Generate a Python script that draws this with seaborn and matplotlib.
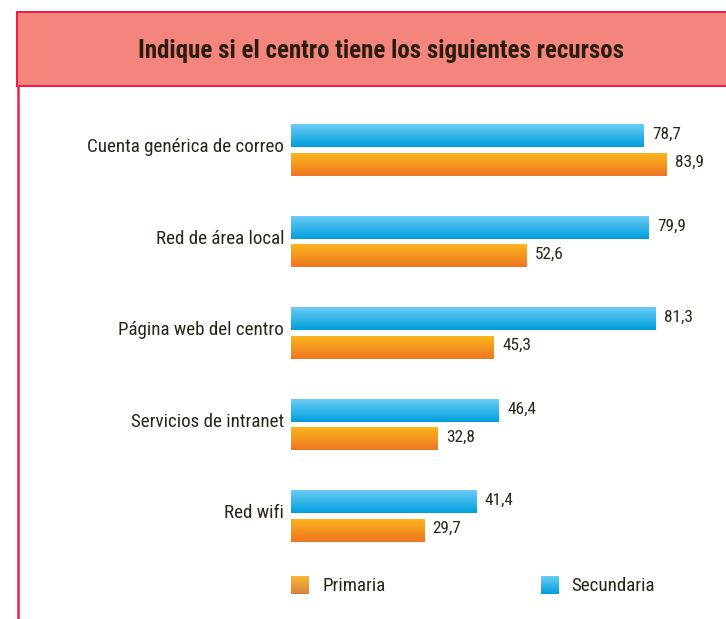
import numpy as np
import pandas as pd
import matplotlib
matplotlib.use("Agg")
import matplotlib.pyplot as plt
import matplotlib.transforms as mtransforms
from matplotlib.patches import Rectangle
from matplotlib import font_manager as fm
import seaborn as sns

categories = ["Cuenta genérica de correo", "Red de área local", "Página web del centro",
              "Servicios de intranet", "Red wifi"]
secundaria = [78.7, 79.9, 81.3, 46.4, 41.4]
primaria = [83.9, 52.6, 45.3, 32.8, 29.7]
series_names = ["Secundaria", "Primaria"]
title = "Indique si el centro tiene los siguientes recursos"

sns.set_theme(style="white")

# pick the narrowest available sans family
names = {f.name for f in fm.fontManager.ttflist}
stretch = "normal"
main = None
for cand in ["Liberation Sans Narrow", "Roboto Condensed", "Open Sans Condensed",
             "Noto Sans Condensed", "DejaVu Sans Condensed"]:
    if cand in names:
        main = cand
        break
if main is None:
    cond = [f for f in fm.fontManager.ttflist
            if f.name == "DejaVu Sans" and str(f.stretch) in ("condensed", "semi-condensed")]
    if cond:
        main, stretch = "DejaVu Sans", "condensed"
    elif "Roboto" in names:
        main = "Roboto"
    else:
        main = "DejaVu Sans"
FONT = [main, "DejaVu Sans"]
plt.rcParams["font.family"] = FONT
plt.rcParams["font.stretch"] = stretch
TXT = "#2b2519"

df = pd.DataFrame({
    "cat": categories * 2,
    "serie": ["Secundaria"] * len(categories) + ["Primaria"] * len(categories),
    "val": secundaria + primaria,
})

W, H = 726, 619
fig = plt.figure(figsize=(W / 100, H / 100), dpi=100)
renderer = fig.canvas.get_renderer()

def fx(px):
    return px / W

def fy(py):
    return 1 - py / H

def fit_size(text, target_px, weight="normal", base=20):
    t = fig.text(0, 0, text, fontsize=base, fontweight=weight, family=FONT, fontstretch=stretch)
    w = t.get_window_extent(renderer=renderer).width
    t.remove()
    return base * target_px / w

title_fs = min(fit_size(title, 482, "bold"), 19)
label_fs = min(fit_size("Cuenta genérica de correo", 196), 16)
value_fs = min(fit_size("78,7", 29), 13)

# title box and left border
fig.patches.append(Rectangle((fx(17), fy(86)), fx(720), (86 - 12) / H, transform=fig.transFigure,
                             facecolor="#F3857D", edgecolor="#EE1F4D", linewidth=1.5, zorder=0))
fig.add_artist(plt.Line2D([fx(17.5), fx(17.5)], [fy(86), 0], transform=fig.transFigure,
                          color="#EE1F4D", linewidth=1.8))
fig.text(fx(381), fy(51), title, ha="center", va="center", fontsize=title_fs, fontweight="bold",
         color="#2a1d10", family=FONT, fontstretch=stretch)

ax_left, ax_right, ax_top, ax_bot = 291, 726, 100, 560
ax = fig.add_axes([fx(ax_left), fy(ax_bot), fx(ax_right - ax_left), (ax_bot - ax_top) / H])
sns.barplot(data=df, y="cat", x="val", hue="serie", hue_order=series_names, order=categories,
            orient="h", width=0.62, gap=0.2, ax=ax, legend=False, palette=["#33B5EC", "#F59A20"])

px_per_unit = 4.48
unit_px = 91.5
xlim = (0, (ax_right - ax_left) / px_per_unit)
ylim = (4 + (ax_bot - 516) / unit_px, 0 - (150 - ax_top) / unit_px)

grads = {
    "Secundaria": ("#6BCDF5", "#009EDD"),
    "Primaria": ("#FBB51C", "#EF7622"),
}

def grad_img(top, bot, n=64):
    c1 = np.array(matplotlib.colors.to_rgb(top))
    c2 = np.array(matplotlib.colors.to_rgb(bot))
    t = np.linspace(0, 1, n)[:, None]
    col = c1 * (1 - t) + c2 * t
    return col[:, None, :]

patches = list(ax.patches)
n = len(categories)
for i, p in enumerate(patches):
    serie = series_names[i // n]
    x0, y0 = p.get_x(), p.get_y()
    w, h = p.get_width(), p.get_height()
    ax.imshow(grad_img(*grads[serie]), extent=(x0, x0 + w, y0 + h, y0), aspect="auto", zorder=2,
              interpolation="bilinear")
    p.set_visible(False)
    ax.annotate(f"{w:.1f}".replace(".", ","), xy=(x0 + w, y0 + h / 2), xytext=(6, 1),
                textcoords="offset points", ha="left", va="center", fontsize=value_fs, color=TXT,
                family=FONT, fontstretch=stretch)

ax.set_xlim(*xlim)
ax.set_ylim(*ylim)
ax.set_xlabel("")
ax.set_ylabel("")
ax.set_xticks([])
ax.tick_params(axis="y", length=0, pad=5, labelsize=label_fs, labelcolor=TXT)
offset = mtransforms.ScaledTranslation(0, 3.5 / 72, fig.dpi_scale_trans)
for lab in ax.get_yticklabels():
    lab.set_transform(lab.get_transform() + offset)
    lab.set_fontstretch(stretch)
for s in ax.spines.values():
    s.set_visible(False)
ax.patch.set_alpha(0)

# legend
leg_items = [("Primaria", ("#FBB93A", "#D6823A"), 291, 322),
             ("Secundaria", ("#6BCDF5", "#009EDD"), 541, 571)]
for name, (c1, c2), sx, tx in leg_items:
    lax = fig.add_axes([fx(sx), fy(594), fx(18), 18 / H])
    lax.imshow(grad_img(c1, c2), aspect="auto", extent=(0, 1, 0, 1), interpolation="bilinear")
    lax.set_axis_off()
    fig.text(fx(tx), fy(586), name, ha="left", va="center", fontsize=label_fs, color=TXT,
             family=FONT, fontstretch=stretch)

fig.savefig("out.png", dpi=100)
